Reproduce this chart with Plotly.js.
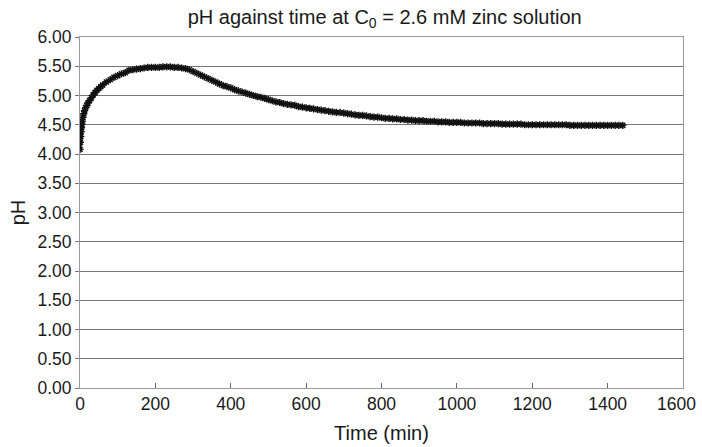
<!DOCTYPE html>
<html>
<head>
<meta charset="utf-8">
<script src="https://cdn.plot.ly/plotly-3.0.1.min.js"></script>
<style>html,body{margin:0;padding:0;background:#fff;}#chart{width:702px;height:447px;}</style>
</head>
<body>
<div id="chart"></div>
<script>
var timeMin = [0,1,2,3,4,5,6,8,10,12,15,18,21,25,30,35,40,45,50,55,60,70,80,90,100,110,120,130,140,150,160,170,180,
190,200,210,220,230,240,250,260,270,280,290,300,310,320,330,340,350,360,370,380,390,400,
410,420,430,440,450,460,470,480,490,500,510,520,530,540,550,560,570,580,590,600,
610,620,630,640,650,660,670,680,690,700,710,720,730,740,750,760,770,780,790,800,
810,820,830,840,850,860,870,880,890,900,910,920,930,940,950,960,970,980,990,1000,
1010,1020,1030,1040,1050,1060,1070,1080,1090,1100,1110,1120,1130,1140,1150,1160,1170,1180,1190,1200,
1210,1220,1230,1240,1250,1260,1270,1280,1290,1300,1310,1320,1330,1340,1350,1360,1370,1380,1390,1400,
1410,1420,1430,1440];
var pH = [4.08,4.20,4.30,4.38,4.45,4.51,4.56,4.63,4.69,4.74,4.79,4.83,4.87,4.91,4.96,5.01,5.05,5.09,5.12,5.15,5.18,5.23,5.27,5.31,5.34,5.37,5.39,5.43,5.44,5.45,5.46,5.47,5.48,
5.48,5.48,5.48,5.49,5.49,5.49,5.48,5.48,5.47,5.46,5.44,5.41,5.38,5.35,5.32,5.29,5.26,5.23,5.20,5.17,5.15,5.13,
5.10,5.08,5.06,5.04,5.02,5.00,4.98,4.97,4.95,4.93,4.91,4.89,4.88,4.86,4.85,4.84,4.83,4.81,4.80,4.79,
4.78,4.77,4.76,4.75,4.74,4.73,4.72,4.71,4.71,4.70,4.69,4.68,4.67,4.66,4.66,4.65,4.64,4.63,4.63,4.62,
4.61,4.61,4.60,4.60,4.59,4.59,4.58,4.58,4.57,4.57,4.57,4.56,4.56,4.56,4.55,4.55,4.55,4.54,4.54,4.54,
4.54,4.53,4.53,4.53,4.53,4.53,4.52,4.52,4.52,4.52,4.52,4.51,4.51,4.51,4.51,4.51,4.51,4.50,4.50,4.50,
4.50,4.50,4.50,4.50,4.50,4.50,4.50,4.50,4.50,4.49,4.49,4.49,4.49,4.49,4.49,4.49,4.49,4.49,4.49,4.49,
4.49,4.49,4.49,4.49];
var yTicks = [0,0.5,1,1.5,2,2.5,3,3.5,4,4.5,5,5.5,6];
var xTicks = [0,200,400,600,800,1000,1200,1400,1600];
var lastX = xTicks[xTicks.length - 1];
var xTickText = xTicks.map(function(v){ return v === lastX ? '' : String(v); });

var trace = {
  x: timeMin, y: pH, type: 'scatter', mode: 'lines+markers',
  line: {color: '#111', width: 3},
  marker: {symbol: 'asterisk-open', size: 6, color: '#111', line: {color: '#111', width: 1.5}},
  hoverinfo: 'skip'
};
var fam = 'Liberation Sans, Arial, sans-serif';
var tickFont = {family: fam, size: 17.5, color: '#1a1a1a'};
var titleFont = {family: fam, size: 20, color: '#1a1a1a'};
var layout = {
  width: 702, height: 447,
  margin: {l: 80, r: 19, t: 37, b: 59},
  paper_bgcolor: '#fff', plot_bgcolor: '#fff',
  showlegend: false,
  font: tickFont,
  title: {text: 'pH against time at C<sub>0</sub> = 2.6 mM zinc solution', font: titleFont, x: 0.548, xanchor: 'center', y: 0.962, yanchor: 'middle'},
  xaxis: {
    range: [0, 1600], tickvals: xTicks, ticktext: xTickText,
    ticks: 'inside', ticklen: 5, tickcolor: '#666',
    showgrid: false, zeroline: false,
    showline: true, mirror: true, linecolor: '#9a9a9a', linewidth: 1,
    tickfont: tickFont,
    title: {text: 'Time (min)', font: titleFont, standoff: 12}
  },
  yaxis: {
    range: [0, 6], tickvals: yTicks, ticktext: yTicks.map(function(v){return v.toFixed(2);}),
    ticks: 'outside', ticklen: 4, tickcolor: '#777',
    showgrid: true, gridcolor: '#777777', gridwidth: 1,
    zeroline: true, zerolinecolor: '#444', zerolinewidth: 1.5,
    showline: true, mirror: true, linecolor: '#9a9a9a', linewidth: 1,
    tickfont: tickFont,
    title: {text: 'pH', font: titleFont, standoff: 6}
  },
  annotations: [{
    x: lastX, xref: 'x', y: 0, yref: 'paper', text: String(lastX),
    xanchor: 'center', yanchor: 'top', xshift: -7, yshift: -5,
    showarrow: false, font: tickFont, borderpad: 0
  }]
};
Plotly.newPlot('chart', [trace], layout, {staticPlot: true, displayModeBar: false});
</script>
</body>
</html>
